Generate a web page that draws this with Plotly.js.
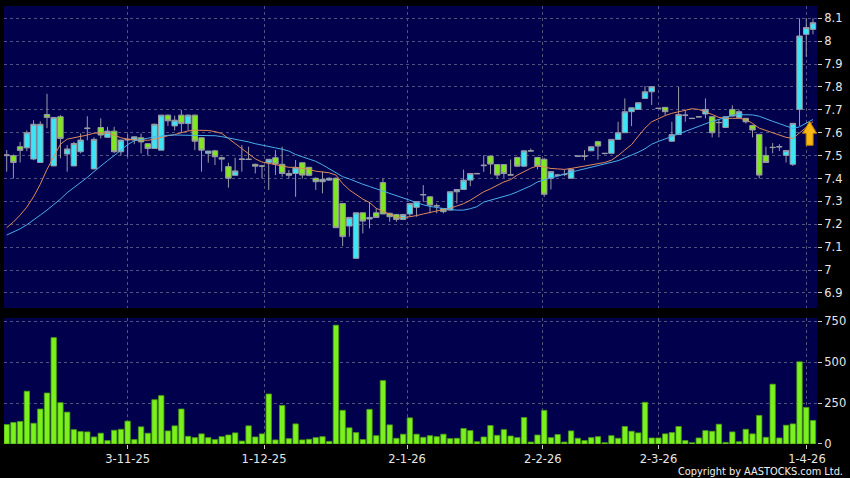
<!DOCTYPE html>
<html>
<head>
<meta charset="utf-8">
<script src="https://cdn.plot.ly/plotly-3.0.1.min.js"></script>
<style>html,body{margin:0;padding:0;background:#000;}#chart{width:850px;height:478px;}</style>
</head>
<body>
<div id="chart"></div>
<script>
// trading-day index 0..120 (about 8 Oct 2025 .. 2 Apr 2026)
const openP = [7.50,7.50,7.539,7.534,7.485,7.47,7.68,7.455,7.67,7.507, 7.455,7.517,7.618,7.442,7.623,7.58,7.607,7.517,7.568,7.568, 7.578,7.552,7.531,7.524,7.677,7.63,7.677,7.64,7.677,7.578, 7.51,7.521,7.491,7.452,7.414,7.483,7.485,7.462,7.455,7.469, 7.491,7.462,7.414,7.422,7.469,7.449,7.401,7.386,7.393,7.401, 7.291,7.192,7.051,7.25,7.223,7.25,7.382,7.248,7.243,7.221, 7.245,7.274,7.328,7.32,7.281,7.269,7.262,7.342,7.352,7.393, 7.42,7.456,7.498,7.461,7.461,7.417,7.492,7.454,7.52,7.492, 7.484,7.401,7.414,7.417,7.401,7.497,7.497,7.521,7.561,7.509, 7.51,7.571,7.60,7.692,7.702,7.75,7.779,7.706,7.711,7.563, 7.592,7.676,7.662,7.669,7.682,7.67,7.644,7.623,7.702,7.667, 7.663,7.632,7.593,7.501,7.535,7.538,7.501,7.462,7.702,8.03, 8.052];
const highP = [7.524,7.505,7.56,7.61,7.655,7.65,7.77,7.667,7.677,7.546, 7.56,7.597,7.672,7.58,7.663,7.626,7.626,7.57,7.593,7.585, 7.597,7.555,7.64,7.677,7.68,7.675,7.70,7.68,7.68,7.58, 7.52,7.525,7.495,7.469,7.491,7.546,7.539,7.465,7.46,7.484, 7.524,7.539,7.437,7.481,7.469,7.45,7.405,7.43,7.405,7.405, 7.291,7.23,7.25,7.25,7.298,7.27,7.40,7.25,7.245,7.245, 7.291,7.30,7.371,7.322,7.291,7.27,7.342,7.352,7.439,7.422, 7.425,7.502,7.50,7.462,7.462,7.483,7.495,7.521,7.531,7.495, 7.49,7.43,7.42,7.44,7.44,7.50,7.524,7.539,7.565,7.51, 7.571,7.648,7.75,7.711,7.733,7.804,7.804,7.708,7.712,7.648, 7.80,7.699,7.664,7.672,7.75,7.672,7.66,7.67,7.72,7.70, 7.665,7.635,7.595,7.539,7.555,7.55,7.525,7.641,8.10,8.10, 8.10];
const lowP = [7.43,7.40,7.47,7.52,7.48,7.47,7.62,7.455,7.488,7.43, 7.455,7.51,7.567,7.44,7.575,7.577,7.51,7.50,7.495,7.55, 7.51,7.50,7.53,7.524,7.63,7.61,7.60,7.61,7.524,7.43, 7.469,7.459,7.43,7.36,7.414,7.43,7.483,7.422,7.40,7.35, 7.415,7.408,7.40,7.32,7.40,7.41,7.35,7.335,7.39,7.185, 7.105,7.146,7.05,7.16,7.182,7.23,7.245,7.211,7.211,7.22, 7.233,7.233,7.298,7.248,7.248,7.248,7.26,7.291,7.35,7.367, 7.42,7.429,7.419,7.40,7.403,7.415,7.45,7.45,7.52,7.44, 7.32,7.352,7.41,7.41,7.40,7.495,7.48,7.52,7.483,7.505, 7.51,7.57,7.60,7.629,7.70,7.75,7.721,7.705,7.677,7.56, 7.59,7.648,7.66,7.668,7.663,7.58,7.58,7.62,7.67,7.665, 7.64,7.58,7.40,7.47,7.51,7.52,7.47,7.455,7.63,7.932, 8.03];
const closeP = [7.503,7.47,7.523,7.60,7.637,7.637,7.667,7.667,7.575,7.529, 7.553,7.568,7.62,7.571,7.59,7.607,7.517,7.568,7.571,7.582, 7.56,7.531,7.637,7.677,7.652,7.655,7.64,7.677,7.563,7.524, 7.52,7.495,7.485,7.401,7.433,7.485,7.483,7.454,7.454,7.484, 7.463,7.422,7.422,7.447,7.415,7.414,7.386,7.396,7.401,7.185, 7.146,7.23,7.25,7.214,7.23,7.23,7.245,7.233,7.221,7.243, 7.291,7.299,7.33,7.284,7.28,7.255,7.342,7.352,7.393,7.422, 7.422,7.458,7.463,7.415,7.422,7.415,7.454,7.521,7.521,7.454, 7.331,7.43,7.415,7.418,7.44,7.498,7.498,7.539,7.542,7.51, 7.571,7.60,7.692,7.709,7.731,7.779,7.801,7.707,7.692,7.592, 7.68,7.677,7.663,7.67,7.702,7.60,7.645,7.67,7.673,7.692, 7.648,7.612,7.415,7.47,7.536,7.539,7.522,7.641,8.023,8.06, 8.081];
const volume = [119,132,138,323,127,214,312,651,253,195, 88,76,74,43,66,21,84,90,140,27, 105,66,271,296,80,111,214,47,39,62, 39,27,45,55,68,18,111,43,62,306, 25,236,33,123,25,29,39,45,16,727, 206,99,70,27,212,51,388,117,35,60, 160,60,41,51,45,60,33,35,95,82, 14,43,113,53,88,49,39,162,12,55, 206,39,58,12,80,35,21,39,45,8, 51,35,107,78,68,255,37,37,62,70, 107,21,8,37,82,78,121,10,74,14, 90,62,175,41,366,37,115,123,503,224, 144];
const ma10 = [7.185,7.21,7.24,7.275,7.32,7.375,7.44,7.495,7.55,7.572, 7.578,7.582,7.59,7.598,7.60,7.598,7.59,7.578,7.572,7.57, 7.568,7.567,7.572,7.58,7.587,7.592,7.60,7.608,7.611,7.611, 7.61,7.605,7.597,7.575,7.552,7.53,7.508,7.486,7.472,7.466, 7.458,7.452,7.449,7.449,7.446,7.44,7.432,7.428,7.425,7.415, 7.378,7.35,7.33,7.31,7.295,7.27,7.257,7.245,7.232,7.228, 7.232,7.238,7.245,7.25,7.258,7.265,7.27,7.28,7.29,7.305, 7.322,7.342,7.355,7.37,7.385,7.395,7.415,7.43,7.445,7.455, 7.448,7.444,7.442,7.44,7.444,7.449,7.455,7.459,7.463,7.47, 7.48,7.50,7.525,7.548,7.585,7.62,7.648,7.662,7.675,7.685, 7.692,7.70,7.705,7.702,7.692,7.68,7.667,7.663,7.663,7.663, 7.658,7.641,7.62,7.61,7.60,7.588,7.58,7.575,7.60,7.625, 7.648];
const ma20 = [7.153,7.165,7.18,7.198,7.218,7.24,7.262,7.285,7.31,7.338, 7.36,7.38,7.405,7.43,7.455,7.478,7.50,7.525,7.548,7.565, 7.572,7.576,7.582,7.587,7.589,7.59,7.59,7.59,7.59,7.59, 7.589,7.587,7.583,7.578,7.572,7.567,7.56,7.552,7.545,7.539, 7.534,7.528,7.52,7.505,7.495,7.487,7.475,7.46,7.442,7.425, 7.408,7.398,7.385,7.375,7.365,7.355,7.345,7.335,7.323,7.313, 7.303,7.293,7.285,7.278,7.273,7.267,7.264,7.262,7.262,7.268, 7.277,7.297,7.305,7.312,7.32,7.33,7.342,7.355,7.368,7.385, 7.395,7.403,7.41,7.42,7.428,7.435,7.442,7.448,7.455,7.462, 7.468,7.478,7.49,7.502,7.515,7.53,7.55,7.562,7.573,7.583, 7.595,7.605,7.617,7.628,7.64,7.65,7.658,7.668,7.676,7.679, 7.68,7.678,7.672,7.66,7.65,7.64,7.63,7.619,7.626,7.642, 7.658];
const tickPos = [18, 38.3, 59.6, 79.8, 97, 119.1];
const tickText = ['3-11-25','1-12-25','2-1-26','2-2-26','2-3-26','1-4-26'];
const priceTicks = [6.9,7.0,7.1,7.2,7.3,7.4,7.5,7.6,7.7,7.8,7.9,8.0,8.1];
const volTicks = [0,250,500,750];

const idx = closeP.map((_, i) => i);
const last = idx.length - 1;

const gridC = '#52527e';
const gridDash = '3px,3px';
const fontTick = {family: 'DejaVu Sans', size: 11.5, color: '#e6e6e6'};

const traces = [
  {
    type: 'candlestick', x: idx, open: openP, high: highP, low: lowP, close: closeP,
    xaxis: 'x', yaxis: 'y', whiskerwidth: 0,
    increasing: {line: {color: '#9a9aa6', width: 1}, fillcolor: '#3ce4f4'},
    decreasing: {line: {color: '#9a9aa6', width: 1}, fillcolor: '#80e61e'},
    hoverinfo: 'skip'
  },
  {type: 'scatter', mode: 'lines', x: idx, y: ma10, xaxis: 'x', yaxis: 'y',
   line: {color: '#e08a58', width: 1}, hoverinfo: 'skip'},
  {type: 'scatter', mode: 'lines', x: idx, y: ma20, xaxis: 'x', yaxis: 'y',
   line: {color: '#4aaeea', width: 1}, hoverinfo: 'skip'},
  {type: 'bar', x: idx, y: volume, xaxis: 'x2', yaxis: 'y2',
   marker: {color: '#7af01c', line: {color: '#4c9c14', width: 0.8}}, hoverinfo: 'skip'}
];

const layout = {
  width: 850, height: 478,
  paper_bgcolor: '#000000', plot_bgcolor: '#00004c',
  margin: {l: 4, r: 33, t: 6, b: 34},
  showlegend: false, bargap: 0.2, boxgap: 0.1, boxgroupgap: 0.1,
  xaxis: {
    domain: [0, 1], anchor: 'y', matches: 'x2', range: [-0.4, 120.6],
    rangeslider: {visible: false}, showticklabels: false, ticks: '',
    tickvals: tickPos, showgrid: true, gridcolor: gridC, griddash: gridDash, gridwidth: 1,
    zeroline: false, showline: false
  },
  yaxis: {
    domain: [0.3105, 1], anchor: 'x', side: 'right', range: [6.834, 8.154],
    tickvals: priceTicks, ticks: 'outside', ticklen: 4, tickcolor: '#cccccc',
    tickfont: fontTick, showgrid: true, gridcolor: gridC, griddash: gridDash,
    zeroline: false, showline: false
  },
  xaxis2: {
    domain: [0, 1], anchor: 'y2', range: [-0.4, 120.6],
    tickvals: tickPos, ticktext: tickText, ticks: 'outside', ticklen: 4, tickcolor: '#cccccc',
    tickfont: fontTick, showgrid: true, gridcolor: gridC, griddash: gridDash,
    zeroline: false, showline: false
  },
  yaxis2: {
    domain: [0, 0.2877], anchor: 'x2', side: 'right', range: [0, 771],
    tickvals: volTicks, ticks: 'outside', ticklen: 4, tickcolor: '#cccccc',
    tickfont: fontTick, showgrid: true, gridcolor: gridC, griddash: gridDash,
    zeroline: false, showline: false
  },
  shapes: [{
    type: 'path', xref: 'x', yref: 'y', xsizemode: 'pixel', ysizemode: 'pixel',
    xanchor: last - 0.5, yanchor: ma20[last] - 0.008,
    path: 'M 0 0 L 7 -12 L 3.5 -12 L 3.5 -24 L -3.5 -24 L -3.5 -12 L -7 -12 Z',
    fillcolor: '#f8b814', line: {color: '#b87a00', width: 1}, layer: 'above'
  }],
  annotations: [{
    xref: 'paper', yref: 'paper', x: 1.035, y: -0.062, xanchor: 'right', yanchor: 'middle',
    text: 'Copyright by AASTOCKS.com Ltd.', showarrow: false,
    font: {family: 'DejaVu Sans', size: 9.8, color: '#f0f0f0'}
  }]
};

Plotly.newPlot('chart', traces, layout, {staticPlot: true, displayModeBar: false});
</script>
</body>
</html>
